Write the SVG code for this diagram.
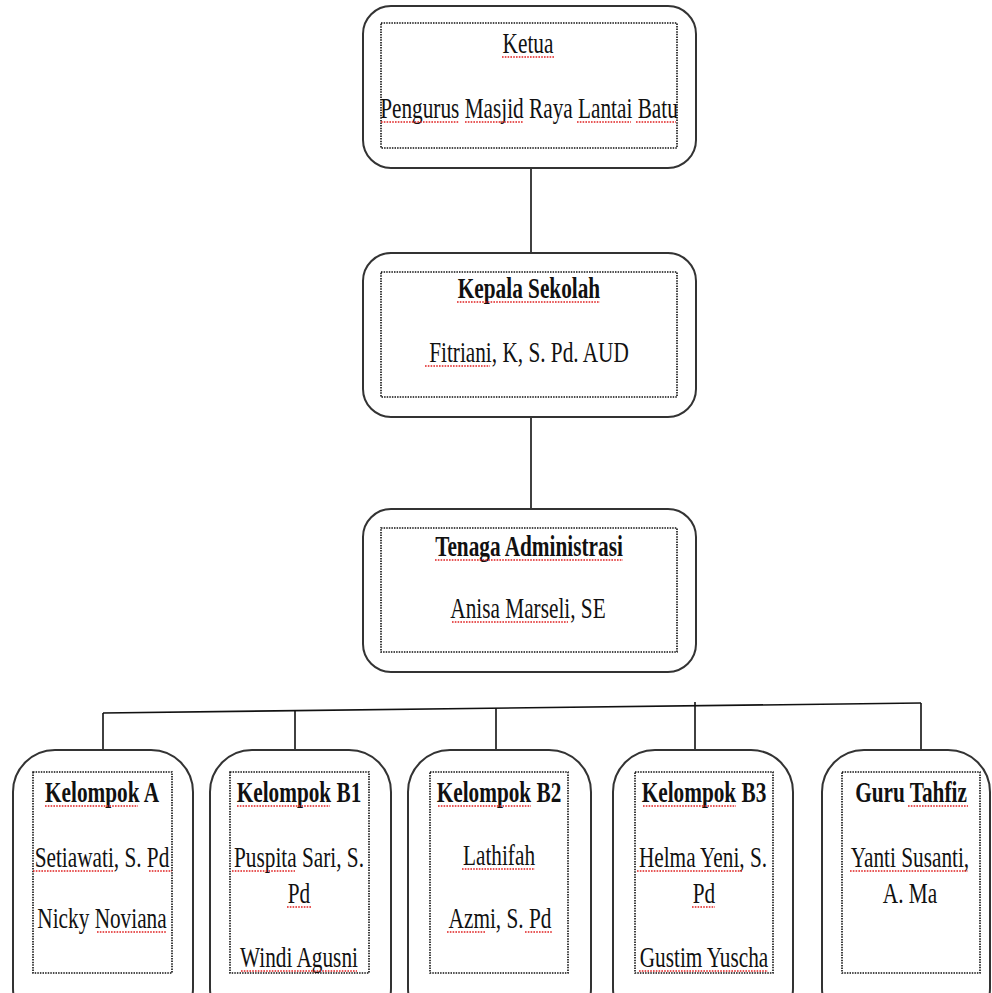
<svg xmlns="http://www.w3.org/2000/svg" width="992" height="993" viewBox="0 0 992 993">
<style>
.outer{fill:#fff;stroke:#333;stroke-width:2}
.inner{fill:none;stroke:#111;stroke-width:1.6;stroke-dasharray:1.5 1.1}
.t{font-family:"Liberation Serif","Times New Roman",serif;font-size:28px;fill:#111;text-anchor:middle}
.b{font-weight:bold}
.ul{stroke:#e02020;stroke-width:1.6;stroke-dasharray:1.6 1.2;fill:none}
.conn{stroke:#111;stroke-width:1.6;fill:none}
</style>
<rect width="992" height="993" fill="#fff"/>
<g id="connectors">
<line class="conn" x1="531" y1="168" x2="531" y2="253"/>
<line class="conn" x1="531" y1="417" x2="531" y2="509"/>
<line class="conn" x1="103" y1="713" x2="921" y2="703"/>
<line class="conn" x1="103" y1="713" x2="103" y2="750"/>
<line class="conn" x1="295" y1="711" x2="295" y2="750"/>
<line class="conn" x1="496" y1="708" x2="496" y2="750"/>
<line class="conn" x1="695" y1="702" x2="695" y2="750"/>
<line class="conn" x1="921" y1="703" x2="921" y2="750"/>
</g>
<g id="ketua">
<rect class="outer" x="363" y="6" width="333" height="162" rx="28"/>
<rect class="inner" x="381" y="23" width="296" height="125"/>
<text class="t" transform="translate(528,53) scale(0.76,1.08)">Ketua</text>
<text class="t" transform="translate(529,118) scale(0.76,1.08)">Pengurus Masjid Raya Lantai Batu</text>
<path class="ul" d="M502 57H554M381 122H459M465 122H523M577 122H631M636 122H676"/>
</g>
<g id="kepala">
<rect class="outer" x="363" y="253" width="333" height="164" rx="28"/>
<rect class="inner" x="381" y="272" width="296" height="125"/>
<text class="t b" transform="translate(529,298) scale(0.76,1.08)">Kepala Sekolah</text>
<text class="t" transform="translate(529,362) scale(0.76,1.08)">Fitriani, K, S. Pd. AUD</text>
<path class="ul" d="M457 302H600M425 366H490"/>
</g>
<g id="tenaga">
<rect class="outer" x="363" y="509" width="333" height="163" rx="28"/>
<rect class="inner" x="381" y="528" width="296" height="124"/>
<text class="t b" transform="translate(529,556) scale(0.76,1.08)">Tenaga Administrasi</text>
<text class="t" transform="translate(528,618) scale(0.76,1.08)">Anisa Marseli, SE</text>
<path class="ul" d="M435 560H623M452 622H568"/>
</g>
<g id="kelompok-a">
<rect class="outer" x="13" y="750" width="180" height="280" rx="42"/>
<rect class="inner" x="33" y="772" width="139" height="201"/>
<text class="t b" transform="translate(102,802) scale(0.76,1.08)">Kelompok A</text>
<text class="t" transform="translate(102,867) scale(0.76,1.08)">Setiawati, S. Pd</text>
<text class="t" transform="translate(102,928) scale(0.76,1.08)">Nicky Noviana</text>
<path class="ul" d="M45 806H138M33 871H114M149 871H172M97 932H166"/>
</g>
<g id="kelompok-b1">
<rect class="outer" x="210" y="750" width="181" height="280" rx="42"/>
<rect class="inner" x="230" y="772" width="139" height="201"/>
<text class="t b" transform="translate(299,802) scale(0.76,1.08)">Kelompok B1</text>
<text class="t" transform="translate(299,867) scale(0.76,1.08)">Puspita Sari, S.</text>
<text class="t" transform="translate(299,903) scale(0.76,1.08)">Pd</text>
<text class="t" transform="translate(299,967) scale(0.76,1.08)">Windi Agusni</text>
<path class="ul" d="M237 806H330M232 871H295M287 907H311M241 971H357"/>
</g>
<g id="kelompok-b2">
<rect class="outer" x="408" y="750" width="183" height="280" rx="42"/>
<rect class="inner" x="430" y="772" width="138" height="201"/>
<text class="t b" transform="translate(499,802) scale(0.76,1.08)">Kelompok B2</text>
<text class="t" transform="translate(499,865) scale(0.76,1.08)">Lathifah</text>
<text class="t" transform="translate(500,928) scale(0.76,1.08)">Azmi, S. Pd</text>
<path class="ul" d="M438 806H531M462 869H535M447 932H486M525 932H553"/>
</g>
<g id="kelompok-b3">
<rect class="outer" x="613" y="750" width="180" height="280" rx="42"/>
<rect class="inner" x="635" y="772" width="138" height="201"/>
<text class="t b" transform="translate(704,802) scale(0.76,1.08)">Kelompok B3</text>
<text class="t" transform="translate(703,867) scale(0.76,1.08)">Helma Yeni, S.</text>
<text class="t" transform="translate(704,903) scale(0.76,1.08)">Pd</text>
<text class="t" transform="translate(704,967) scale(0.76,1.08)">Gustim Yuscha</text>
<path class="ul" d="M643 806H736M637 871H742M692 907H715M639 971H768"/>
</g>
<g id="guru-tahfiz">
<rect class="outer" x="822" y="750" width="168" height="280" rx="42"/>
<rect class="inner" x="842" y="772" width="138" height="201"/>
<text class="t b" transform="translate(911,802) scale(0.76,1.08)">Guru Tahfiz</text>
<text class="t" transform="translate(910,867) scale(0.76,1.08)">Yanti Susanti,</text>
<text class="t" transform="translate(910,903) scale(0.76,1.08)">A. Ma</text>
<path class="ul" d="M908 806H968M850 871H968"/>
</g>
</svg>
